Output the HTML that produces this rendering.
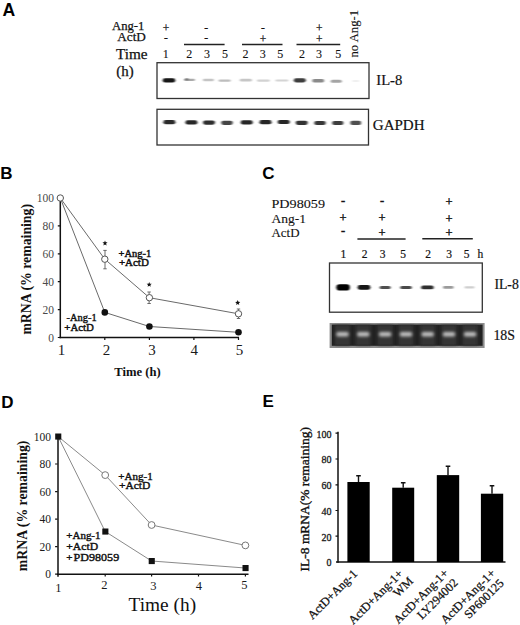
<!DOCTYPE html>
<html><head><meta charset="utf-8">
<style>
html,body{margin:0;padding:0;background:#fff;width:520px;height:625px;overflow:hidden}
svg{display:block}
.s{font-family:"Liberation Serif",serif}
.b{font-family:"Liberation Sans",sans-serif;font-weight:bold}
</style></head><body>
<svg width="520" height="625" viewBox="0 0 520 625">
<defs>
<filter id="bl1" x="-50%" y="-200%" width="200%" height="500%"><feGaussianBlur stdDeviation="0.8 0.6"/></filter>
<filter id="bl2" x="-50%" y="-200%" width="200%" height="500%"><feGaussianBlur stdDeviation="1.4 1.0"/></filter>
<filter id="bl4" x="-50%" y="-200%" width="200%" height="500%"><feGaussianBlur stdDeviation="1.7 1.4"/></filter>
<filter id="bl3" x="-20%" y="-20%" width="140%" height="140%"><feGaussianBlur stdDeviation="0.5"/></filter>
</defs>
<rect width="520" height="625" fill="#fff"/>
<!-- PANEL A -->
<text class="b" x="2.5" y="16.1" font-size="17.6" fill="#000">A</text>
<text class="s" x="112" y="30" font-size="13" fill="#111" textLength="32.4" lengthAdjust="spacingAndGlyphs" stroke="#111" stroke-width="0.25">Ang-1</text>
<text class="s" x="117.3" y="41.3" font-size="13" fill="#111" textLength="28.6" lengthAdjust="spacingAndGlyphs" stroke="#111" stroke-width="0.25">ActD</text>
<text class="s" x="116" y="58.7" font-size="14.5" fill="#111" textLength="31.6" lengthAdjust="spacingAndGlyphs" stroke="#111" stroke-width="0.25">Time</text>
<text class="s" x="116.3" y="76" font-size="14.5" fill="#111" textLength="17.4" lengthAdjust="spacingAndGlyphs" stroke="#111" stroke-width="0.25">(h)</text>
<g class="s" fill="#111" font-size="11.5" text-anchor="middle" stroke="#111" stroke-width="0.25">
<text x="166" y="32.2">+</text>
<text x="166" y="40.8">-</text>
<text x="206.2" y="31.1">-</text>
<text x="206.2" y="40.8">-</text>
<text x="263" y="31.3">-</text>
<text x="263" y="42.7">+</text>
<text x="319.3" y="32">+</text>
<text x="319.3" y="42.7">+</text>
</g>
<g stroke="#222" stroke-width="1.4">
<line x1="184" y1="44.5" x2="224.6" y2="44.5"/>
<line x1="242" y1="44.5" x2="282.5" y2="44.5"/>
<line x1="296.5" y1="44.5" x2="340.2" y2="44.5"/>
</g>
<g class="s" fill="#111" font-size="12" text-anchor="middle" stroke="#111" stroke-width="0.1">
<text x="165.7" y="58">1</text>
<text x="189.2" y="58">2</text>
<text x="207" y="58">3</text>
<text x="225" y="58">5</text>
<text x="245.4" y="58">2</text>
<text x="262.7" y="58">3</text>
<text x="280.2" y="58">5</text>
<text x="302" y="58">2</text>
<text x="319" y="58">3</text>
<text x="338.3" y="58">5</text>
</g>
<text class="s" font-size="13" fill="#111" transform="translate(357.7,57.5) rotate(-90)" textLength="47.6" lengthAdjust="spacingAndGlyphs" stroke="#111" stroke-width="0.12">no Ang-1</text>
<rect x="157" y="62.7" width="212" height="35.8" fill="none" stroke="#333" stroke-width="1.3"/>
<rect x="162.75" y="78.30" width="12.5" height="4.2" rx="2.1" fill="#151515" filter="url(#bl1)"/>
<rect x="184.00" y="78.70" width="11" height="2.2" rx="1.1" fill="#aaa" filter="url(#bl1)"/>
<rect x="202.90" y="78.80" width="11" height="2.4" rx="1.2" fill="#c4c4c4" filter="url(#bl1)"/>
<rect x="218.60" y="79.40" width="12" height="2.4" rx="1.2" fill="#bdbdbd" filter="url(#bl1)"/>
<rect x="239.80" y="78.80" width="12" height="2.8" rx="1.4" fill="#c6c6c6" filter="url(#bl1)"/>
<rect x="256.90" y="79.50" width="13" height="2.2" rx="1.1" fill="#d2d2d2" filter="url(#bl1)"/>
<rect x="275.40" y="79.60" width="13" height="2.0" rx="1.0" fill="#d4d4d4" filter="url(#bl1)"/>
<rect x="293.80" y="78.20" width="12" height="4.2" rx="2.1" fill="#3e3e3e" filter="url(#bl1)"/>
<rect x="312.20" y="79.10" width="12" height="3.4" rx="1.7" fill="#8a8a8a" filter="url(#bl1)"/>
<rect x="330.70" y="79.70" width="11" height="3.0" rx="1.5" fill="#a4a4a4" filter="url(#bl1)"/>
<rect x="352.30" y="80.20" width="7" height="1.6" rx="0.8" fill="#ececec" filter="url(#bl1)"/>
<rect x="185.05" y="78.30" width="3.5" height="2.2" rx="1.1" fill="#777" filter="url(#bl1)"/>
<text class="s" x="376.3" y="85.3" font-size="14.5" fill="#111" textLength="26" lengthAdjust="spacingAndGlyphs" stroke="#111" stroke-width="0.2">IL-8</text>
<rect x="157" y="109.3" width="211.5" height="35.7" fill="none" stroke="#333" stroke-width="1.3"/>
<rect x="163.40" y="120.10" width="12" height="4.2" rx="2.1" fill="#2c2c2c" filter="url(#bl1)"/>
<rect x="185.40" y="120.30" width="12" height="4.2" rx="2.1" fill="#262626" filter="url(#bl1)"/>
<rect x="203.00" y="120.50" width="12" height="4.2" rx="2.1" fill="#2e2e2e" filter="url(#bl1)"/>
<rect x="221.25" y="120.70" width="11.5" height="4.2" rx="2.1" fill="#444" filter="url(#bl1)"/>
<rect x="240.70" y="120.30" width="12" height="4.2" rx="2.1" fill="#262626" filter="url(#bl1)"/>
<rect x="259.50" y="120.10" width="12" height="4.2" rx="2.1" fill="#262626" filter="url(#bl1)"/>
<rect x="277.60" y="119.90" width="12.2" height="4.2" rx="2.1" fill="#262626" filter="url(#bl1)"/>
<rect x="295.70" y="120.70" width="12" height="4.2" rx="2.1" fill="#303030" filter="url(#bl1)"/>
<rect x="314.25" y="120.90" width="11.5" height="4.2" rx="2.1" fill="#383838" filter="url(#bl1)"/>
<rect x="332.15" y="120.90" width="11.3" height="4.2" rx="2.1" fill="#3c3c3c" filter="url(#bl1)"/>
<rect x="350.20" y="120.80" width="11" height="4.2" rx="2.1" fill="#505050" filter="url(#bl1)"/>
<text class="s" x="372.8" y="129.6" font-size="15" fill="#111" textLength="51.8" lengthAdjust="spacingAndGlyphs" stroke="#111" stroke-width="0.2">GAPDH</text>
<!-- PANEL B -->
<text class="b" x="0.2" y="178.5" font-size="17" fill="#000">B</text>
<g stroke="#111" stroke-width="1.5" fill="none">
<line x1="60.3" y1="197.5" x2="60.3" y2="338.2"/>
<line x1="59.5" y1="337.5" x2="239" y2="337.5"/>
<path d="M57.8 337.5h2.5M57.8 309.6h2.5M57.8 281.7h2.5M57.8 253.8h2.5M57.8 225.9h2.5M57.8 198.0h2.5" stroke-width="1.2"/>
<path d="M104.8 337.5v2.6M149.4 337.5v2.6M193.9 337.5v2.6M238.5 337.5v2.6" stroke-width="1.2"/>
</g>
<g class="s" fill="#4a4a4a" font-size="11.5" text-anchor="end">
<text x="54" y="341.7">0</text>
<text x="54" y="313.8">20</text>
<text x="54" y="285.9">40</text>
<text x="54" y="258.0">60</text>
<text x="54" y="230.1">80</text>
<text x="54" y="202.2">100</text>
</g>
<g class="s" fill="#1a1a1a" font-size="15" text-anchor="middle">
<text x="61.4" y="354.6">1</text>
<text x="106.6" y="354.6">2</text>
<text x="151.9" y="354.6">3</text>
<text x="194.2" y="354.6">4</text>
<text x="239.4" y="354.6">5</text>
</g>
<text class="s" font-size="14" fill="#111" transform="translate(31.2,334.6) rotate(-90)" textLength="130.6" lengthAdjust="spacingAndGlyphs" font-weight="bold">mRNA (% remaining)</text>
<text class="s" x="114.3" y="375.8" font-size="12.5" fill="#111" textLength="46.5" lengthAdjust="spacingAndGlyphs" font-weight="bold">Time (h)</text>
<g fill="none" stroke="#6a6a6a" stroke-width="1">
<polyline points="60.3,198.0 104.8,259.2 149.4,297.7 238.5,313.8"/>
<polyline points="60.3,198.0 104.8,312.4 149.4,326.5 238.5,332.3"/>
<path d="M105 250.4V268.8M103.3 250.4h3.4M103.3 268.8h3.4 M149.1 292V303.5M147.4 292h3.4M147.4 303.5h3.4 M238.5 309V318.5M236.8 309h3.4M236.8 318.5h3.4"/>
</g>
<g stroke="#555" stroke-width="1" fill="#fff">
<circle cx="60.3" cy="198.0" r="3.2"/>
<circle cx="104.8" cy="259.2" r="3.2"/>
<circle cx="149.4" cy="297.7" r="3.2"/>
<circle cx="238.5" cy="313.8" r="3.2"/>
</g><g fill="#111">
<circle cx="104.8" cy="312.4" r="3.3"/>
<circle cx="149.4" cy="326.5" r="3.3"/>
<circle cx="238.5" cy="332.3" r="3.3"/>
</g>
<polygon points="105.00,240.50 105.71,242.23 107.57,242.37 106.14,243.57 106.59,245.38 105.00,244.40 103.41,245.38 103.86,243.57 102.43,242.37 104.29,242.23" fill="#111"/>
<polygon points="149.20,281.90 149.91,283.63 151.77,283.77 150.34,284.97 150.79,286.78 149.20,285.80 147.61,286.78 148.06,284.97 146.63,283.77 148.49,283.63" fill="#111"/>
<polygon points="237.70,300.10 238.41,301.83 240.27,301.97 238.84,303.17 239.29,304.98 237.70,304.00 236.11,304.98 236.56,303.17 235.13,301.97 236.99,301.83" fill="#111"/>
<text class="s" x="118.6" y="256.6" font-size="10.5" fill="#111" textLength="32.7" lengthAdjust="spacingAndGlyphs" stroke="#111" stroke-width="0.45">+Ang-1</text>
<text class="s" x="118.9" y="266.3" font-size="10.5" fill="#111" textLength="29.9" lengthAdjust="spacingAndGlyphs" stroke="#111" stroke-width="0.45">+ActD</text>
<text class="s" x="66.6" y="321.2" font-size="10.5" fill="#111" textLength="30" lengthAdjust="spacingAndGlyphs" stroke="#111" stroke-width="0.4">-Ang-1</text>
<text class="s" x="64.3" y="331" font-size="10.5" fill="#111" textLength="29.6" lengthAdjust="spacingAndGlyphs" stroke="#111" stroke-width="0.45">+ActD</text>
<!-- PANEL C -->
<text class="b" x="262.3" y="178.5" font-size="17" fill="#000">C</text>
<text class="s" x="271.5" y="207.7" font-size="12.5" fill="#111" textLength="53.5" lengthAdjust="spacingAndGlyphs" stroke="#111" stroke-width="0.1">PD98059</text>
<text class="s" x="271.5" y="223.4" font-size="12.5" fill="#111" textLength="34.6" lengthAdjust="spacingAndGlyphs" stroke="#111" stroke-width="0.1">Ang-1</text>
<text class="s" x="271.5" y="237" font-size="12.5" fill="#111" textLength="28" lengthAdjust="spacingAndGlyphs" stroke="#111" stroke-width="0.1">ActD</text>
<g class="s" fill="#111" font-size="12.5" text-anchor="middle" stroke="#111" stroke-width="0.4">
<text x="343" y="205.3">-</text>
<text x="343" y="222.2">+</text>
<text x="343" y="235.3">-</text>
<text x="382" y="205.3">-</text>
<text x="382" y="222.2">+</text>
<text x="382" y="236.6">+</text>
<text x="449" y="205.7">+</text>
<text x="449" y="223">+</text>
<text x="449" y="236.6">+</text>
</g>
<g stroke="#222" stroke-width="1.4">
<line x1="357.4" y1="239" x2="405.6" y2="239"/><line x1="422.3" y1="238.7" x2="472.8" y2="238.7"/>
</g>
<g class="s" fill="#111" font-size="11.5" text-anchor="middle" stroke="#111" stroke-width="0.2">
<text x="343.4" y="257.8">1</text>
<text x="364.5" y="257.8">2</text>
<text x="382.6" y="257.8">3</text>
<text x="403" y="257.8">5</text>
<text x="428.2" y="257.8">2</text>
<text x="449.2" y="257.8">3</text>
<text x="466.6" y="257.8">5</text>
<text x="480.4" y="257.8">h</text>
</g>
<rect x="329.5" y="263" width="152.8" height="49.2" fill="none" stroke="#333" stroke-width="1.3"/>
<rect x="336.35" y="284.30" width="13.5" height="6.2" rx="3.1" fill="#050505" filter="url(#bl1)"/>
<rect x="357.60" y="285.00" width="12.8" height="4.8" rx="2.4" fill="#161616" filter="url(#bl1)"/>
<rect x="379.60" y="285.90" width="11" height="3.0" rx="1.5" fill="#505050" filter="url(#bl1)"/>
<rect x="400.25" y="285.90" width="11.5" height="3.0" rx="1.5" fill="#4a4a4a" filter="url(#bl1)"/>
<rect x="421.15" y="285.50" width="12.5" height="3.8" rx="1.9" fill="#2e2e2e" filter="url(#bl1)"/>
<rect x="443.05" y="286.10" width="10.5" height="2.6" rx="1.3" fill="#9a9a9a" filter="url(#bl1)"/>
<rect x="464.50" y="286.30" width="10" height="2.2" rx="1.1" fill="#cfcfcf" filter="url(#bl1)"/>
<rect x="329.6" y="323" width="155" height="25" fill="#8c8c8c"/>
<rect x="331.8" y="324.6" width="150.8" height="21.2" fill="#222"/>
<g filter="url(#bl2)">
<rect x="335.0" y="325" width="15" height="20.5" fill="#353535"/>
<rect x="355.8" y="325" width="15" height="20.5" fill="#353535"/>
<rect x="377.6" y="325" width="15" height="20.5" fill="#353535"/>
<rect x="398.5" y="325" width="15" height="20.5" fill="#353535"/>
<rect x="420.2" y="325" width="15" height="20.5" fill="#353535"/>
<rect x="441.5" y="325" width="15" height="20.5" fill="#353535"/>
<rect x="462.6" y="325" width="15" height="20.5" fill="#353535"/>
</g>
<rect x="336.25" y="332.00" width="12.5" height="4.4" rx="2.2" fill="#c0c0c0" filter="url(#bl4)"/>
<rect x="357.05" y="332.00" width="12.5" height="4.4" rx="2.2" fill="#c0c0c0" filter="url(#bl4)"/>
<rect x="378.85" y="332.00" width="12.5" height="4.4" rx="2.2" fill="#c0c0c0" filter="url(#bl4)"/>
<rect x="399.75" y="332.00" width="12.5" height="4.4" rx="2.2" fill="#c0c0c0" filter="url(#bl4)"/>
<rect x="421.45" y="332.00" width="12.5" height="4.4" rx="2.2" fill="#c0c0c0" filter="url(#bl4)"/>
<rect x="442.75" y="332.00" width="12.5" height="4.4" rx="2.2" fill="#c0c0c0" filter="url(#bl4)"/>
<rect x="463.85" y="332.00" width="12.5" height="4.4" rx="2.2" fill="#c0c0c0" filter="url(#bl4)"/>
<text class="s" x="494.4" y="288.5" font-size="14" fill="#111" textLength="24.4" lengthAdjust="spacingAndGlyphs" stroke="#111" stroke-width="0.2">IL-8</text>
<text class="s" x="493.4" y="339.7" font-size="14" fill="#111" textLength="21.6" lengthAdjust="spacingAndGlyphs" stroke="#111" stroke-width="0.2">18S</text>
<!-- PANEL D -->
<text class="b" x="1.2" y="408" font-size="17" fill="#000">D</text>
<g stroke="#111" stroke-width="1.5" fill="none">
<line x1="58" y1="436" x2="58" y2="576.7"/>
<line x1="57" y1="574.2" x2="248.5" y2="574.2"/>
<path d="M55.1 574.2h2.5M55.1 546.7h2.5M55.1 519.1h2.5M55.1 491.6h2.5M55.1 464.0h2.5" stroke-width="1.2"/>
<path d="M105.2 574v2.6M151.6 574v2.6M198.5 574v2.6M245.4 574v2.6" stroke-width="1.2"/>
</g>
<g class="s" fill="#1a1a1a" font-size="11.5" text-anchor="end">
<text x="51" y="578.4">0</text>
<text x="51" y="550.9">20</text>
<text x="51" y="523.3">40</text>
<text x="51" y="495.8">60</text>
<text x="51" y="468.2">80</text>
<text x="51" y="440.7">100</text>
</g>
<g class="s" fill="#1a1a1a" font-size="12.5" text-anchor="middle">
<text x="58.4" y="592">1</text>
<text x="104.3" y="589.4">2</text>
<text x="153.3" y="589.8">3</text>
<text x="198.9" y="589.8">4</text>
<text x="244.3" y="589.4">5</text>
</g>
<text class="s" font-size="14.2" fill="#111" transform="translate(26.7,571.2) rotate(-90)" textLength="130.6" lengthAdjust="spacingAndGlyphs" font-weight="bold">mRNA (% remaining)</text>
<text class="s" x="128.5" y="610.5" font-size="19" fill="#111" textLength="67.6" lengthAdjust="spacingAndGlyphs">Time (h)</text>
<g fill="none" stroke="#8a8a8a" stroke-width="1">
<polyline points="58.1,436.5 105.2,475.1 151.6,525.0 245.4,545.4"/>
<polyline points="58.1,436.5 105.2,531.5 151.6,561.0 245.4,568.0"/>
</g>
<g stroke="#777" stroke-width="1" fill="#fff">
<circle cx="105.2" cy="475.1" r="3.4"/>
<circle cx="151.6" cy="525.0" r="3.4"/>
<circle cx="245.4" cy="545.4" r="3.4"/>
</g><g fill="#111">
<rect x="55.2" y="433.5" width="6.1" height="6.1"/>
<rect x="102.3" y="528.5" width="6.1" height="6.1"/>
<rect x="148.7" y="558.0" width="6.1" height="6.1"/>
<rect x="242.5" y="565.0" width="6.1" height="6.1"/>
</g>
<text class="s" x="118.3" y="479.8" font-size="11" fill="#111" textLength="34.4" lengthAdjust="spacingAndGlyphs" stroke="#111" stroke-width="0.4">+Ang-1</text>
<text class="s" x="118.9" y="489.3" font-size="11" fill="#111" textLength="31.4" lengthAdjust="spacingAndGlyphs" stroke="#111" stroke-width="0.4">+ActD</text>
<text class="s" x="66.3" y="538.9" font-size="11" fill="#111" textLength="34.2" lengthAdjust="spacingAndGlyphs" stroke="#111" stroke-width="0.4">+Ang-1</text>
<text class="s" x="66.3" y="550" font-size="11" fill="#111" textLength="31.8" lengthAdjust="spacingAndGlyphs" stroke="#111" stroke-width="0.4">+ActD</text>
<text class="s" x="66.3" y="561.4" font-size="11" fill="#111" stroke="#111" stroke-width="0.4">+</text>
<text class="s" x="73.6" y="561.4" font-size="11" fill="#111" textLength="45.6" lengthAdjust="spacingAndGlyphs" stroke="#111" stroke-width="0.4">PD98059</text>
<!-- PANEL E -->
<text class="b" x="262.6" y="407.3" font-size="17" fill="#000">E</text>
<g stroke="#111" stroke-width="1.5" fill="none">
<line x1="338" y1="431.8" x2="338" y2="562.8"/>
<line x1="336" y1="562" x2="505.5" y2="562"/>
<path d="M335.5 536.2h2.6M335.5 510.5h2.6M335.5 484.8h2.6M335.5 459.0h2.6M335.5 433.2h2.6" stroke-width="1.2"/>
</g>
<g class="s" fill="#1a1a1a" font-size="10" text-anchor="end" stroke="#1a1a1a" stroke-width="0.3">
<text x="331.4" y="566.3">0</text>
<text x="331.4" y="540.5">20</text>
<text x="331.4" y="514.8">40</text>
<text x="331.4" y="489.1">60</text>
<text x="331.4" y="463.3">80</text>
<text x="331.4" y="437.6">100</text>
</g>
<text class="s" font-size="13.5" fill="#111" transform="translate(309.2,571.4) rotate(-90)" textLength="144.3" lengthAdjust="spacingAndGlyphs" stroke="#111" stroke-width="0.35">IL-8 mRNA(% remaining)</text>
<g fill="#000">
<rect x="347.4" y="482.0" width="22.3" height="80.0"/>
<rect x="392.2" y="487.7" width="22.0" height="74.3"/>
<rect x="436.8" y="475.1" width="22.4" height="86.9"/>
<rect x="480.9" y="493.7" width="22.3" height="68.3"/>
</g><g stroke="#111" stroke-width="1.4">
<path d="M358.5 482.0V475.5M356.2 475.7h4.6"/>
<path d="M403.2 487.7V482.5M400.9 482.7h4.6"/>
<path d="M448.0 475.1V466.1M445.7 466.3h4.6"/>
<path d="M492.0 493.7V485.6M489.7 485.8h4.6"/>
</g>
<g class="s" fill="#111" font-size="12.2" text-anchor="end" stroke="#111" stroke-width="0.25">
<text transform="translate(358,574.5) rotate(-45)">ActD+Ang-1</text>
<text transform="translate(403.6,574.5) rotate(-45)"><tspan x="0" y="0">ActD+Ang-1+</tspan><tspan x="2" y="12.5">WM</tspan></text>
<text transform="translate(449,574) rotate(-45)"><tspan x="0" y="0">ActD+Ang-1+</tspan><tspan x="0" y="13.5">LY294002</tspan></text>
<text transform="translate(496,574) rotate(-45)"><tspan x="0" y="0">ActD+Ang-1+</tspan><tspan x="-1" y="13">SP600125</tspan></text>
</g>
</svg>
</body></html>
